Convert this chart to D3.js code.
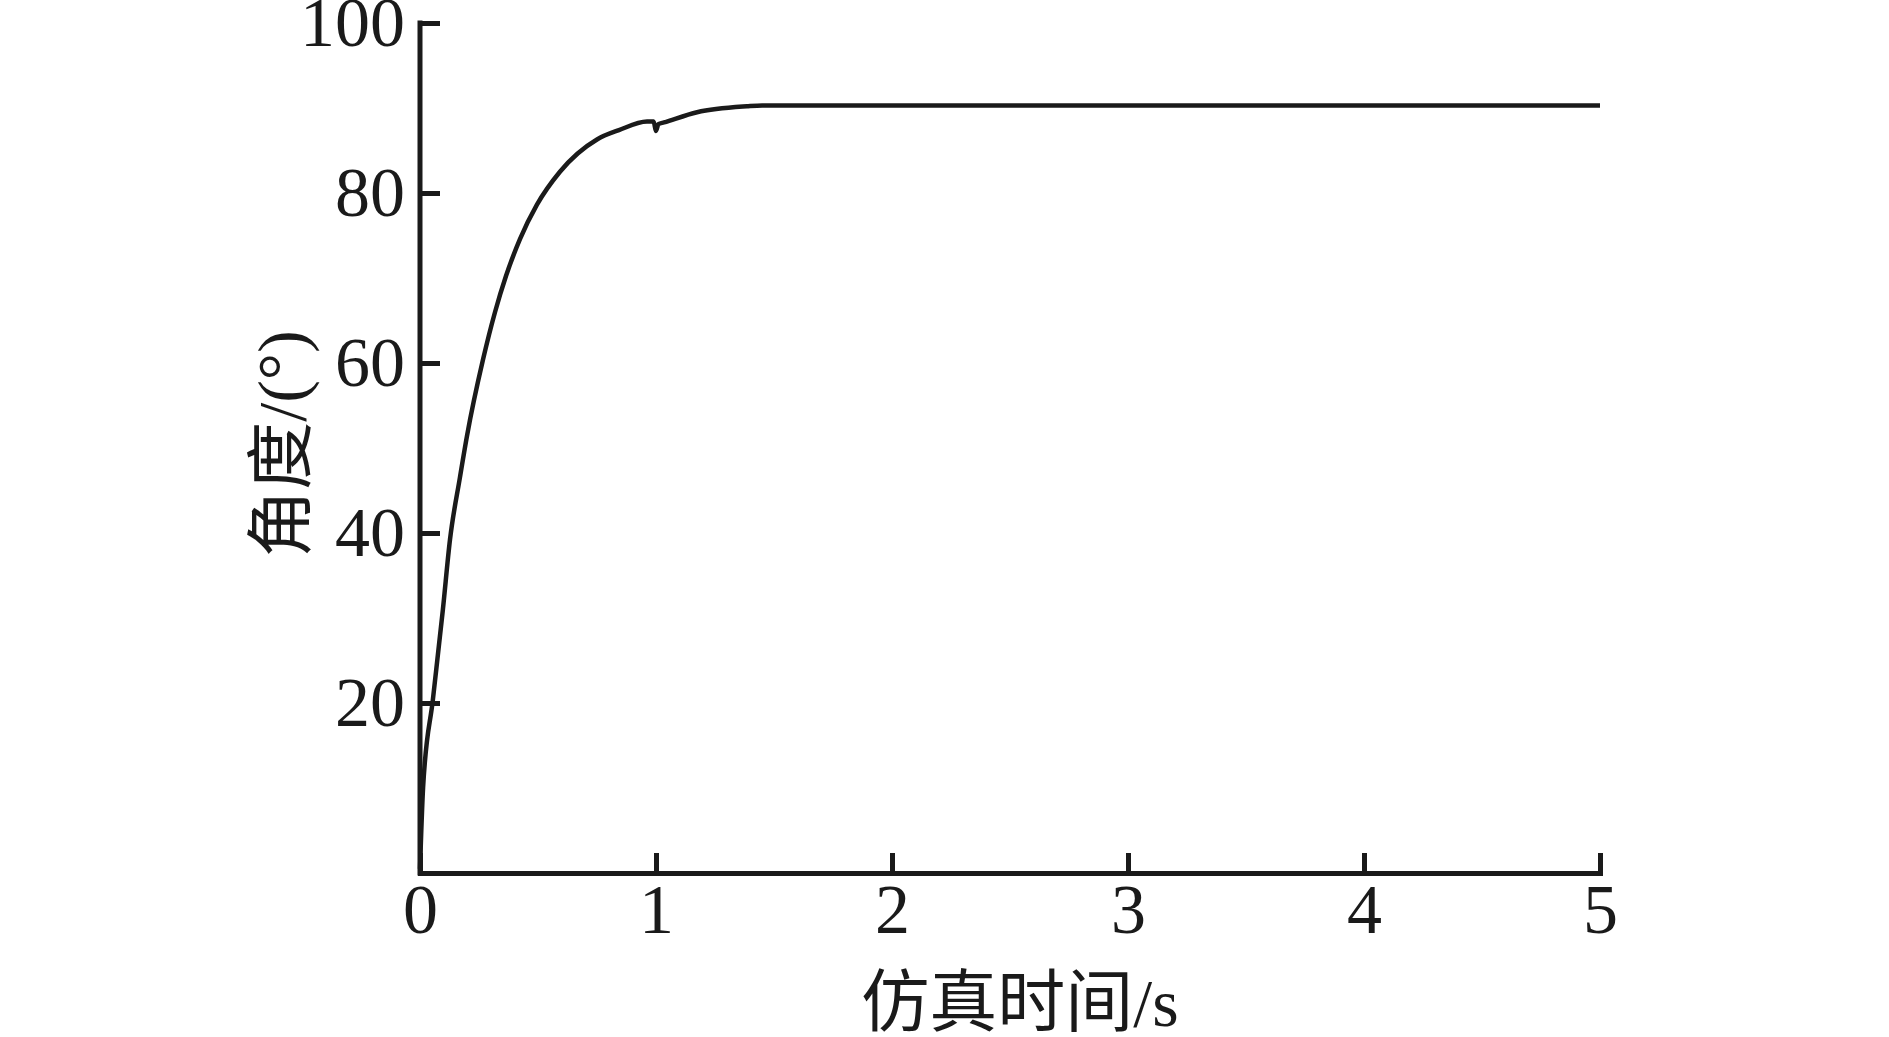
<!DOCTYPE html>
<html>
<head>
<meta charset="utf-8">
<script src="https://cdn.jsdelivr.net/npm/d3@7"></script>
<style>
  body { margin: 0; background: #fff; }
  svg { display: block; }
</style>
</head>
<body>
<svg id="chart" width="1889" height="1037"></svg>
<script>
// simulation time (s) and angle (deg)
const times = [0, 0.013, 0.055, 0.097, 0.127, 0.169, 0.199, 0.267, 0.318, 0.364, 0.424, 0.495, 0.593, 0.75, 0.843, 0.962, 0.99, 1.0, 1.01, 1.034, 1.174, 1.385, 1.45, 5];
const angles = [0.5, 10, 20.5, 31, 39.2, 46.5, 51.4, 60.4, 66.0, 70.2, 74.6, 78.6, 82.5, 86.3, 87.4, 88.4, 88.4, 87.3, 88.1, 88.3, 89.5, 90.2, 90.3, 90.3];
const xTicks = [0, 1, 2, 3, 4, 5];
const yTicks = [20, 40, 60, 80, 100];

const svg = d3.select('#chart');
const margin = { top: 23, right: 289, bottom: 164, left: 420 };
const width = 1889;
const height = 1037;

const x = d3.scaleLinear()
    .domain([0, 5])
    .range([margin.left, width - margin.right]);

const y = d3.scaleLinear()
    .domain([0, 100])
    .range([height - margin.bottom, margin.top]);

const font = '"Liberation Serif", "Times New Roman", "Noto Sans CJK SC", serif';

const data = times.map((t, i) => ({ t, v: angles[i] }));

svg.append('path')
    .datum(data)
    .attr('fill', 'none')
    .attr('stroke', '#1a1a1a')
    .attr('stroke-width', 4.5)
    .attr('stroke-linejoin', 'round')
    .attr('d', d3.line()
        .x(d => x(d.t))
        .y(d => y(d.v))
        .curve(d3.curveMonotoneX));

const xAxis = svg.append('g')
    .attr('transform', `translate(0,${y(0)})`)
    .call(d3.axisBottom(x)
        .tickValues(xTicks)
        .tickFormat(d3.format('d'))
        .tickSizeInner(-20)
        .tickSizeOuter(0)
        .tickPadding(10));

const yAxis = svg.append('g')
    .attr('transform', `translate(${x(0)},0)`)
    .call(d3.axisLeft(y)
        .tickValues(yTicks)
        .tickSizeInner(-20)
        .tickSizeOuter(0)
        .tickPadding(15));

[xAxis, yAxis].forEach(g => {
    g.select('.domain')
        .attr('stroke', '#1a1a1a')
        .attr('stroke-width', 5)
        .attr('stroke-linecap', 'square');
    g.selectAll('.tick line')
        .attr('stroke', '#1a1a1a')
        .attr('stroke-width', 5);
    g.selectAll('.tick text')
        .attr('fill', '#1a1a1a')
        .style('font-family', font)
        .style('font-size', '70px');
});

// the y axis line starts right at the 100 tick
yAxis.select('.domain')
    .attr('d', `M0,${y(100)}V${y(0)}`);

svg.append('text')
    .attr('x', 1020)
    .attr('y', 1026)
    .attr('text-anchor', 'middle')
    .attr('fill', '#1a1a1a')
    .style('font-family', font)
    .style('font-size', '68px')
    .text('仿真时间/s');

svg.append('text')
    .attr('transform', 'rotate(-90)')
    .attr('x', -444)
    .attr('y', 281)
    .attr('dy', '0.35em')
    .attr('text-anchor', 'middle')
    .attr('fill', '#1a1a1a')
    .style('font-family', font)
    .style('font-size', '68px')
    .text('角度/(°)');
</script>
</body>
</html>
